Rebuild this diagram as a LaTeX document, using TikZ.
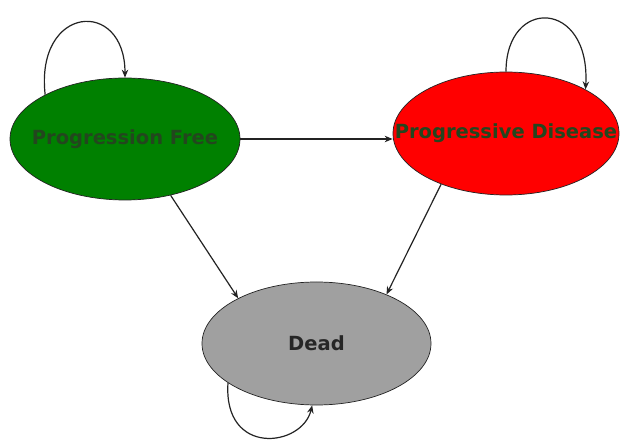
\documentclass[tikz,border=0pt]{standalone}
\usepackage{fontspec}
\setmainfont{DejaVu Sans}
\usetikzlibrary{shapes.geometric,arrows.meta}
\definecolor{pfgreen}{RGB}{0,128,0}
\definecolor{pdred}{RGB}{255,0,0}
\definecolor{deadgray}{RGB}{160,160,160}
\definecolor{labeldark}{RGB}{35,70,30}
\definecolor{linedark}{RGB}{35,35,35}
\begin{document}
\begin{tikzpicture}[x=1pt,y=1pt,
  state/.style={ellipse, draw=linedark, line width=0.7pt, inner sep=0pt},
  statetext/.style={font=\fontsize{19.5}{22}\selectfont\bfseries, text=labeldark, inner sep=0pt},
  arr/.style={draw=linedark, line width=1.2pt, -{Stealth[length=8pt,width=6.5pt]}}]
\useasboundingbox (0,0) rectangle (621,442);
\fill[white] (0,0) rectangle (621,442);
\node[state, fill=pfgreen, minimum width=230pt, minimum height=122pt,
  label={[statetext, name=pft]center:Progression Free}] (pf) at (125,303) {};
\node[state, fill=pdred, minimum width=226pt, minimum height=123pt,
  label={[statetext, name=pdt]center:Progressive Disease}] (pd) at (506,308.5) {};
\node[state, fill=deadgray, minimum width=229pt, minimum height=123pt,
  label={[statetext, text=black!85, name=ddt]center:Dead}] (dd) at (316.5,98.5) {};
% transitions
\draw[arr] (pf.east) -- (pf.east -| pd.west);
\draw[arr] (pf.-51.5) -- (dd.150.5);
\draw[arr] (pd.-142) -- (dd.35.5);
% self loops
\draw[arr] (pf.151) .. controls +(-10,90) and +(0,80) .. (pf.north);
\draw[arr] (pd.north) .. controls +(0,75) and +(5,90) .. (pd.29);
\draw[arr] (dd.204) .. controls +(-5,-74) and +(-10,-42) .. (dd.266);
\end{tikzpicture}
\end{document}
